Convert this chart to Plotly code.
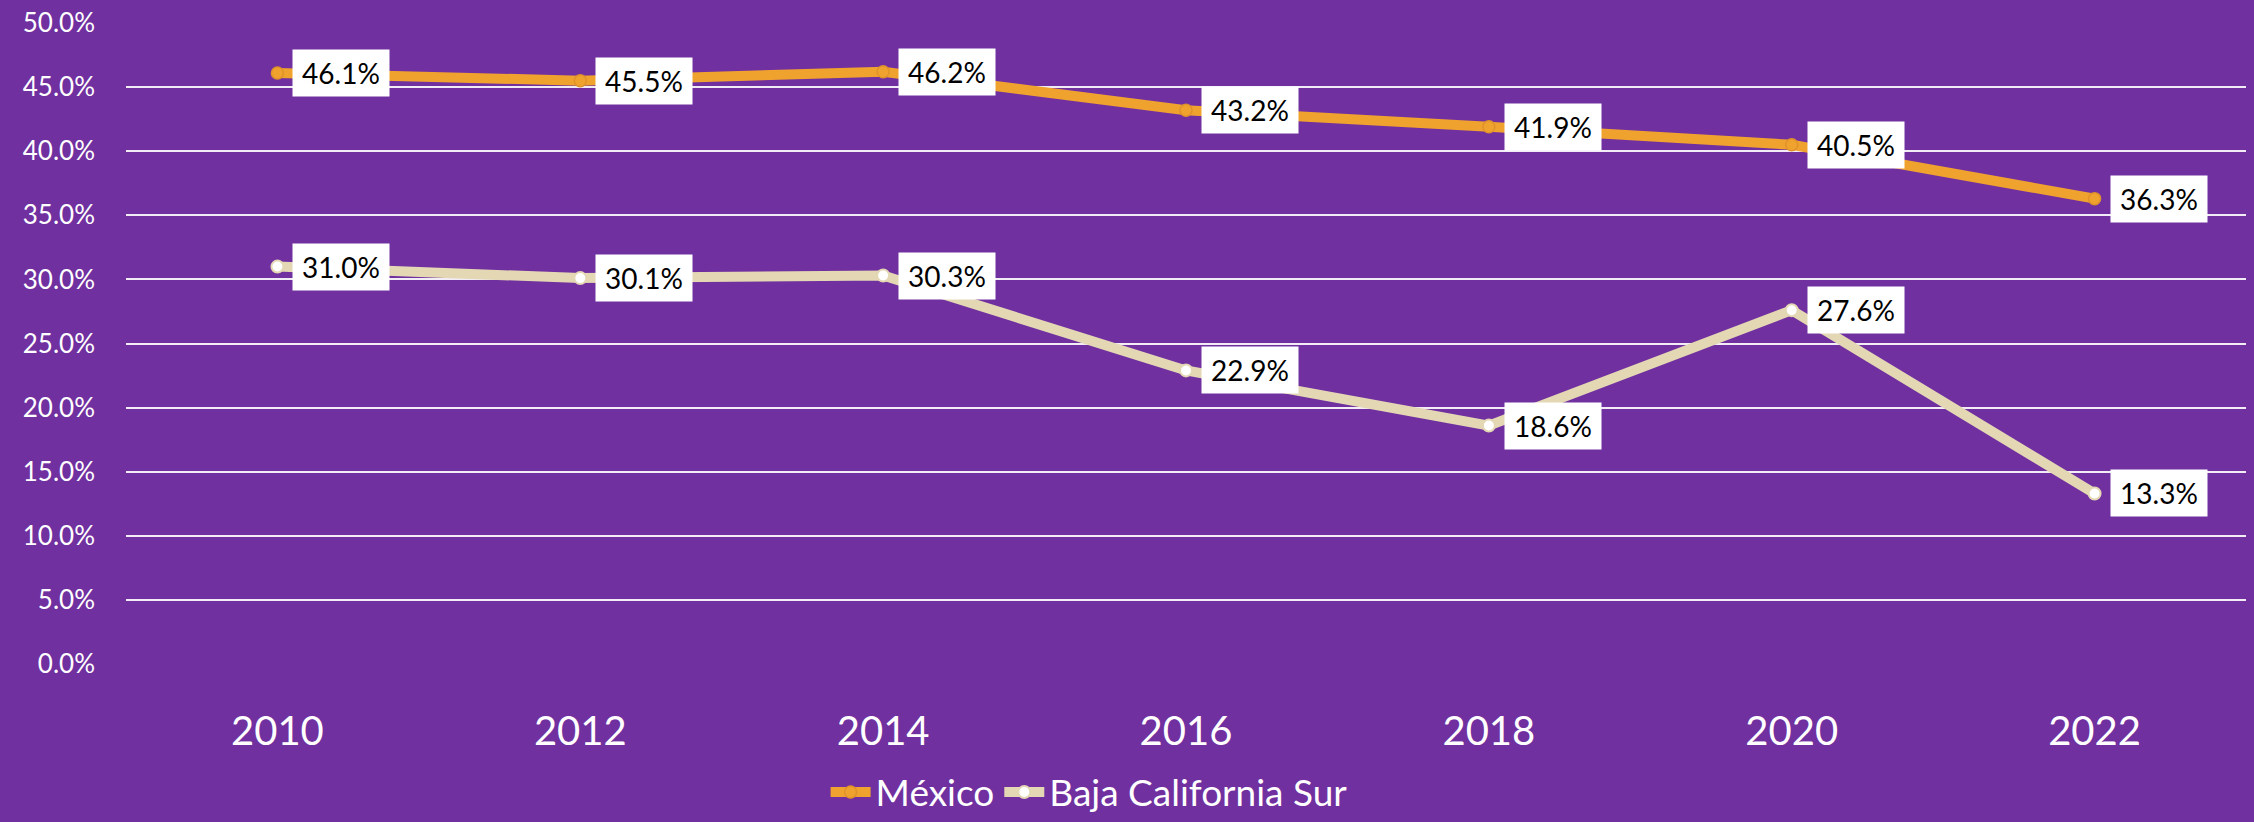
import plotly.graph_objects as go

years = ["2010", "2012", "2014", "2016", "2018", "2020", "2022"]
mexico = [46.1, 45.5, 46.2, 43.2, 41.9, 40.5, 36.3]
bcs = [31.0, 30.1, 30.3, 22.9, 18.6, 27.6, 13.3]
y_ticks = [0, 5, 10, 15, 20, 25, 30, 35, 40, 45, 50]

BG = "#7030A0"
ORANGE = "#F0A22E"
BEIGE = "#E3D8B3"
FONT = "Lato"

fig = go.Figure()
fig.add_trace(go.Scatter(
    x=years, y=mexico, name="México", mode="lines+markers",
    line=dict(color=ORANGE, width=10),
    marker=dict(size=12, color=ORANGE, line=dict(color="#E0922A", width=1.5)),
))
fig.add_trace(go.Scatter(
    x=years, y=bcs, name="Baja California Sur", mode="lines+markers",
    line=dict(color=BEIGE, width=10),
    marker=dict(size=12, color="white", line=dict(color=BEIGE, width=2)),
))

annotations = []
for series in (mexico, bcs):
    for i, v in enumerate(series):
        annotations.append(dict(
            x=i, y=v, xref="x", yref="y", text=f"{v:.1f}%",
            showarrow=False, xanchor="left", yanchor="middle", xshift=15,
            bgcolor="white", width=96, height=46, borderpad=0, align="center",
            font=dict(family=FONT, size=28, color="black"),
        ))

fig.update_layout(
    width=2254, height=822,
    paper_bgcolor=BG, plot_bgcolor=BG,
    margin=dict(l=126, r=8, t=23, b=158, autoexpand=False),
    showlegend=True,
    legend=dict(
        orientation="h", x=0.330, xanchor="left",
        yref="container", y=0.036, yanchor="middle",
        font=dict(family=FONT, size=37, color="white"),
        bgcolor="rgba(0,0,0,0)", itemwidth=40, tracegroupgap=0,
    ),
    annotations=annotations,
    font=dict(family=FONT, color="white"),
)
fig.update_xaxes(
    type="category", range=[-0.5, 6.5], showgrid=False, zeroline=False, showline=False,
    tickfont=dict(family=FONT, size=40, color="white"),
    ticks="", ticklabelstandoff=40, automargin=False,
)
fig.update_yaxes(
    range=[0, 50], tickvals=y_ticks, ticktext=[f"{t:.1f}%" for t in y_ticks],
    showgrid=True, gridcolor="#F2ECF7", gridwidth=2,
    zeroline=False, showline=False,
    tickfont=dict(family=FONT, size=26, color="white"),
    ticks="", ticklabelstandoff=30, automargin=False,
)

fig.write_html(
    "out.html",
    config={"displayModeBar": False},
    post_script="document.body.style.margin='0px';document.body.style.background='#7030A0';",
)
